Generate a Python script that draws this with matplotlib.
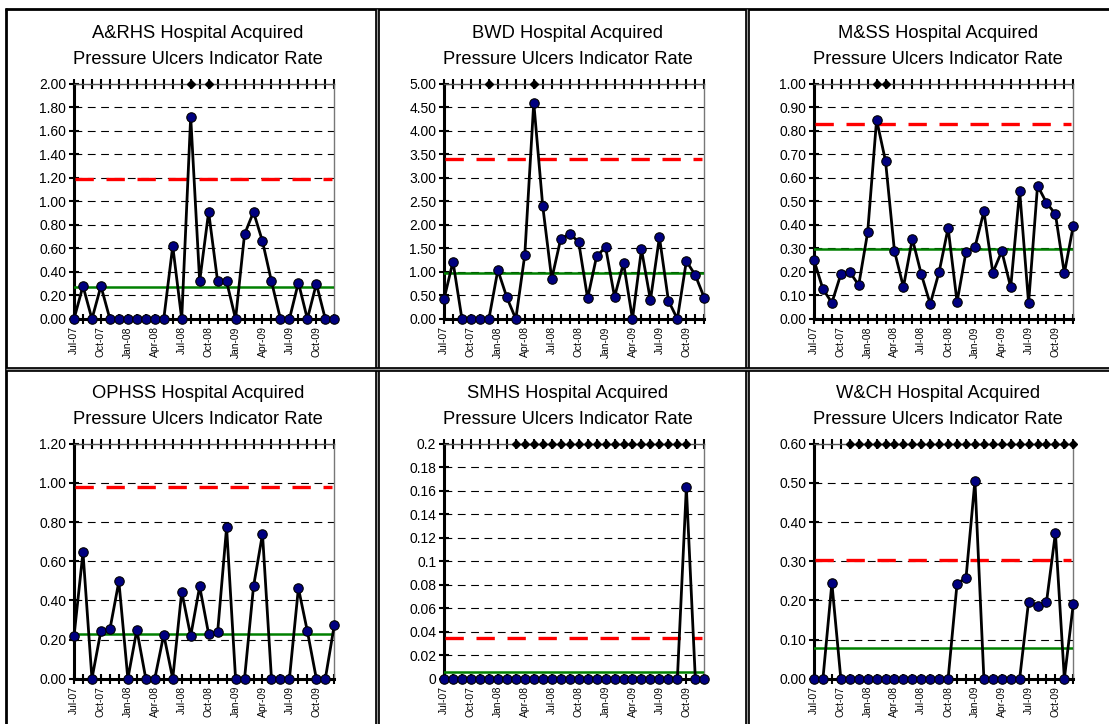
import matplotlib
matplotlib.use("Agg")
import matplotlib.pyplot as plt
from matplotlib.lines import Line2D
import numpy as np

plt.rcParams['font.family'] = ['Liberation Sans', 'DejaVu Sans']

months = ["Jul-07", "Aug-07", "Sep-07", "Oct-07", "Nov-07", "Dec-07",
          "Jan-08", "Feb-08", "Mar-08", "Apr-08", "May-08", "Jun-08",
          "Jul-08", "Aug-08", "Sep-08", "Oct-08", "Nov-08", "Dec-08",
          "Jan-09", "Feb-09", "Mar-09", "Apr-09", "May-09", "Jun-09",
          "Jul-09", "Aug-09", "Sep-09", "Oct-09", "Nov-09", "Dec-09"]
labelled_months = ["Jul-07", "Oct-07", "Jan-08", "Apr-08", "Jul-08",
                   "Oct-08", "Jan-09", "Apr-09", "Jul-09", "Oct-09"]

hospitals = ["A&RHS", "BWD", "M&SS", "OPHSS", "SMHS", "W&CH"]

arhs_rate = [0, 0.28, 0, 0.28, 0, 0, 0, 0, 0, 0, 0, 0.62, 0, 1.72, 0.32,
             0.91, 0.32, 0.32, 0, 0.72, 0.91, 0.66, 0.32, 0, 0, 0.31, 0,
             0.30, 0, 0]
bwd_rate = [0.42, 1.22, 0, 0, 0, 0, 1.04, 0.46, 0, 1.36, 4.60, 2.40, 0.85,
            1.70, 1.81, 1.64, 0.44, 1.33, 1.53, 0.47, 1.19, 0, 1.48, 0.40,
            1.74, 0.39, 0, 1.23, 0.93, 0.45]
mss_rate = [0.25, 0.127, 0.069, 0.19, 0.20, 0.144, 0.368, 0.847, 0.671,
            0.288, 0.136, 0.341, 0.19, 0.064, 0.201, 0.387, 0.072, 0.285,
            0.305, 0.457, 0.197, 0.288, 0.135, 0.545, 0.067, 0.567, 0.494,
            0.446, 0.194, 0.397]
ophss_rate = [0.216, 0.645, 0, 0.245, 0.252, 0.497, 0, 0.249, 0, 0, 0.225,
              0, 0.444, 0.218, 0.471, 0.228, 0.237, 0.773, 0, 0, 0.471,
              0.739, 0, 0, 0, 0.463, 0.242, 0, 0, 0.274]
smhs_rate = [0, 0, 0, 0, 0, 0, 0, 0, 0, 0, 0, 0, 0, 0, 0, 0, 0, 0, 0, 0,
             0, 0, 0, 0, 0, 0, 0, 0.163, 0, 0]
wch_rate = [0, 0, 0.244, 0, 0, 0, 0, 0, 0, 0, 0, 0, 0, 0, 0, 0, 0.243,
            0.257, 0.506, 0, 0, 0, 0, 0, 0.197, 0.186, 0.195, 0.372, 0,
            0.191]

ucl = [1.187, 3.39, 0.827, 0.98, 0.035, 0.304]
centre = [0.269, 0.97, 0.297, 0.23, 0.0054, 0.079]

# months flagged with diamond markers along the top of each chart
flag_arhs = [13, 15]
flag_bwd = [5, 10]
flag_mss = [7, 8]
flag_ophss = []
flag_smhs = [8, 9, 10, 11, 12, 13, 14, 15, 16, 17, 18, 19, 20, 21, 22, 23,
             24, 25, 26, 27]
flag_wch = [4, 5, 6, 7, 8, 9, 10, 11, 12, 13, 14, 15, 16, 17, 18, 19, 20,
            21, 22, 23, 24, 25, 26, 27, 28, 29]

yticks_arhs = [0, 0.2, 0.4, 0.6, 0.8, 1.0, 1.2, 1.4, 1.6, 1.8, 2.0]
yticks_bwd = [0, 0.5, 1.0, 1.5, 2.0, 2.5, 3.0, 3.5, 4.0, 4.5, 5.0]
yticks_mss = [0, 0.1, 0.2, 0.3, 0.4, 0.5, 0.6, 0.7, 0.8, 0.9, 1.0]
yticks_ophss = [0, 0.2, 0.4, 0.6, 0.8, 1.0, 1.2]
yticks_smhs = [0, 0.02, 0.04, 0.06, 0.08, 0.1, 0.12, 0.14, 0.16, 0.18, 0.2]
yticks_wch = [0, 0.1, 0.2, 0.3, 0.4, 0.5, 0.6]
ylabels_smhs = ["0", "0.02", "0.04", "0.06", "0.08", "0.1", "0.12", "0.14",
                "0.16", "0.18", "0.2"]

rates = [arhs_rate, bwd_rate, mss_rate, ophss_rate, smhs_rate, wch_rate]
flags = [flag_arhs, flag_bwd, flag_mss, flag_ophss, flag_smhs, flag_wch]
yticks = [yticks_arhs, yticks_bwd, yticks_mss, yticks_ophss, yticks_smhs,
          yticks_wch]
ylabels = [None, None, None, None, ylabels_smhs, None]

W, H = 1109, 724
fig = plt.figure(figsize=(W / 100, H / 100), dpi=100)

cols = [(74, 334.3), (444, 704.3), (814, 1073.3)]
rows = [(83.7, 319.0), (443.7, 678.7)]
title_x = [198, 568, 938]
title_y = [(33.5, 60), (393.5, 420)]

x = np.arange(len(months))

for i, name in enumerate(hospitals):
    r, c = divmod(i, 3)
    l, rr = cols[c]
    t, b = rows[r]
    ax = fig.add_axes([l / W, 1 - b / H, (rr - l) / W, (b - t) / H])
    yt = yticks[i]
    ymax = yt[-1]
    ax.set_xlim(0, len(months) - 1)
    ax.set_ylim(0, ymax)

    ax.yaxis.grid(True, color='black', lw=0.8, linestyle=(0, (7, 5)))
    ax.set_axisbelow(True)

    ax.plot([0.15, len(months) - 1.3], [ucl[i], ucl[i]], color='#ff0000',
            lw=2.4, dashes=(5.5, 3.8), zorder=3)
    ax.plot([0, len(months) - 1], [centre[i], centre[i]], color='#008000',
            lw=1.8, zorder=3)
    ax.plot(x, rates[i], color='black', lw=2.0, marker='o', markersize=6.8,
            markerfacecolor='#000080', markeredgecolor='black',
            markeredgewidth=0.8, zorder=5, clip_on=False)
    fl = flags[i]
    if fl:
        ax.plot(fl, [ymax] * len(fl), linestyle='none', marker='D',
                markersize=3.8, color='black', zorder=6, clip_on=False)

    ax.set_yticks(yt)
    if ylabels[i] is not None:
        ax.set_yticklabels(ylabels[i])
    else:
        ax.set_yticklabels(["%.2f" % v for v in yt])
    ax.set_xticks(x)
    ax.set_xticklabels([m if m in labelled_months else "" for m in months],
                       rotation=90, fontsize=7.4)
    ax.tick_params(axis='x', direction='inout', length=6.5, width=1.5,
                   pad=2, top=True, color='black')
    ax.tick_params(axis='y', direction='inout', length=7, width=1.5,
                   labelsize=10, pad=2, color='black')

    for s in ['left', 'bottom']:
        ax.spines[s].set_linewidth(2.2)
        ax.spines[s].set_color('black')
    ax.spines['top'].set_linewidth(1.0)
    ax.spines['top'].set_color('#555555')
    ax.spines['right'].set_linewidth(1.0)
    ax.spines['right'].set_color('#777777')

    fig.text(title_x[c] / W, 1 - title_y[r][0] / H,
             name + " Hospital Acquired", ha='center', va='center',
             fontsize=13.2)
    fig.text(title_x[c] / W, 1 - title_y[r][1] / H,
             "Pressure Ulcers Indicator Rate", ha='center', va='center',
             fontsize=13.2)


def fline(xs, ys, lw, color):
    fig.add_artist(Line2D([v / W for v in xs], [1 - v / H for v in ys],
                          lw=lw, color=color, transform=fig.transFigure,
                          solid_capstyle='butt'))


fline([6, 6], [8, 724], 2.0, 'black')
fline([5, 1109], [9, 9], 2.0, 'black')
for xv in [377, 747]:
    fline([xv, xv], [9, 724], 3.4, 'black')
    fline([xv, xv], [9, 724], 0.9, '#999999')
fline([6, 1109], [369, 369], 3.4, 'black')
fline([6, 1109], [369, 369], 0.9, '#999999')

fig.savefig("out.png", dpi=100)
